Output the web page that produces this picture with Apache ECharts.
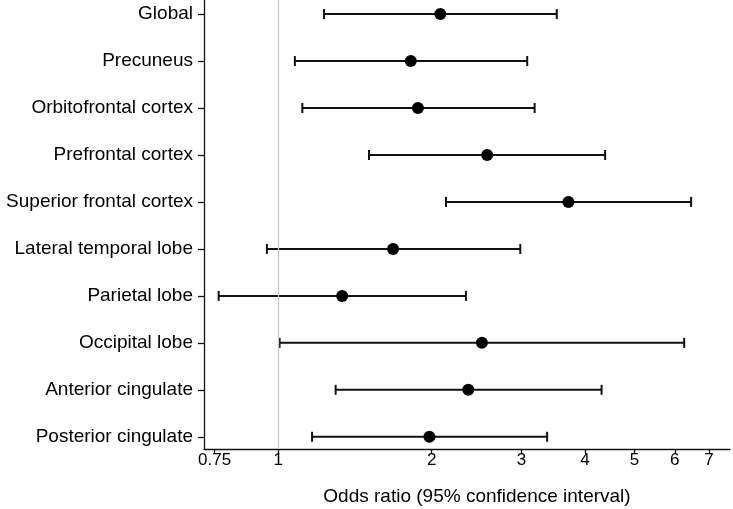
<!DOCTYPE html>
<html>
<head>
<meta charset="utf-8">
<script src="https://cdn.jsdelivr.net/npm/echarts@6/dist/echarts.min.js"></script>
<style>
html,body{margin:0;padding:0;background:#fff;}
#chart{width:733px;height:509px;}
</style>
</head>
<body>
<div id="chart"></div>
<script>
const categories = ["Global","Precuneus","Orbitofrontal cortex","Prefrontal cortex","Superior frontal cortex","Lateral temporal lobe","Parietal lobe","Occipital lobe","Anterior cingulate","Posterior cingulate"];
const oddsRatio = [2.08, 1.82, 1.88, 2.57, 3.71, 1.68, 1.335, 2.51, 2.36, 1.98];
const lowerCI   = [1.23, 1.078, 1.115, 1.507, 2.134, 0.95, 0.764, 1.006, 1.296, 1.165];
const upperCI   = [3.52, 3.08, 3.185, 4.38, 6.46, 2.985, 2.335, 6.26, 4.31, 3.37];
const xTickValues = [0.75, 1, 2, 3, 4, 5, 6, 7];
const refValue = 1;

const FONT = "'Liberation Sans', Arial, Helvetica, sans-serif";
const chart = echarts.init(document.getElementById('chart'));

const ciData = categories.map((c, i) => [lowerCI[i], upperCI[i], i]);
const pointData = categories.map((c, i) => [oddsRatio[i], i]);

chart.setOption({
  animation: false,
  grid: {left: 204, right: 3, top: 0, bottom: 60, containLabel: false, outerBoundsMode: 'none'},
  xAxis: {
    type: 'log',
    logBase: Math.E,
    min: 0.715,
    max: 7.7,
    position: 'bottom',
    name: 'Odds ratio (95% confidence interval)',
    nameLocation: 'middle',
    nameGap: 38,
    nameTextStyle: {fontFamily: FONT, fontSize: 19, color: '#000', padding: [0, 0, 0, 20]},
    axisLine: {show: true, onZero: false, lineStyle: {color: '#111', width: 1.3}},
    axisTick: {show: true, length: 5, lineStyle: {color: '#111', width: 1.3}, customValues: xTickValues},
    axisLabel: {fontFamily: FONT, fontSize: 17, color: '#000', margin: 3, customValues: xTickValues,
      formatter: v => String(v)},
    splitLine: {show: false},
    minorTick: {show: false}
  },
  yAxis: {
    type: 'value',
    inverse: true,
    min: -0.3,
    max: 9.26,
    axisLine: {show: true, onZero: false, lineStyle: {color: '#111', width: 1.3}},
    axisTick: {show: true, length: 6, lineStyle: {color: '#111', width: 1.3}, customValues: categories.map((c, i) => i)},
    axisLabel: {fontFamily: FONT, fontSize: 19, color: '#000', margin: 11,
      customValues: categories.map((c, i) => i),
      formatter: v => categories[Math.round(v)] || ''},
    splitLine: {show: false}
  },
  series: [
    {
      type: 'custom',
      data: ciData,
      encode: {x: [0, 1], y: 2},
      z: 3,
      renderItem: function (params, api) {
        const lo = api.coord([api.value(0), api.value(2)]);
        const hi = api.coord([api.value(1), api.value(2)]);
        const cap = 5;
        const style = {stroke: '#111', lineWidth: 2};
        return {
          type: 'group',
          children: [
            {type: 'line', shape: {x1: lo[0], y1: lo[1], x2: hi[0], y2: hi[1]}, style: style},
            {type: 'line', shape: {x1: lo[0], y1: lo[1] - cap, x2: lo[0], y2: lo[1] + cap}, style: style},
            {type: 'line', shape: {x1: hi[0], y1: hi[1] - cap, x2: hi[0], y2: hi[1] + cap}, style: style}
          ]
        };
      },
      markLine: {
        silent: true,
        symbol: 'none',
        label: {show: false},
        lineStyle: {color: '#c8c8c8', width: 1.3, type: 'solid'},
        data: [{xAxis: refValue}]
      }
    },
    {
      type: 'scatter',
      data: pointData,
      symbol: 'circle',
      symbolSize: 12,
      z: 4,
      itemStyle: {color: '#000', opacity: 1}
    }
  ]
});
</script>
</body>
</html>
